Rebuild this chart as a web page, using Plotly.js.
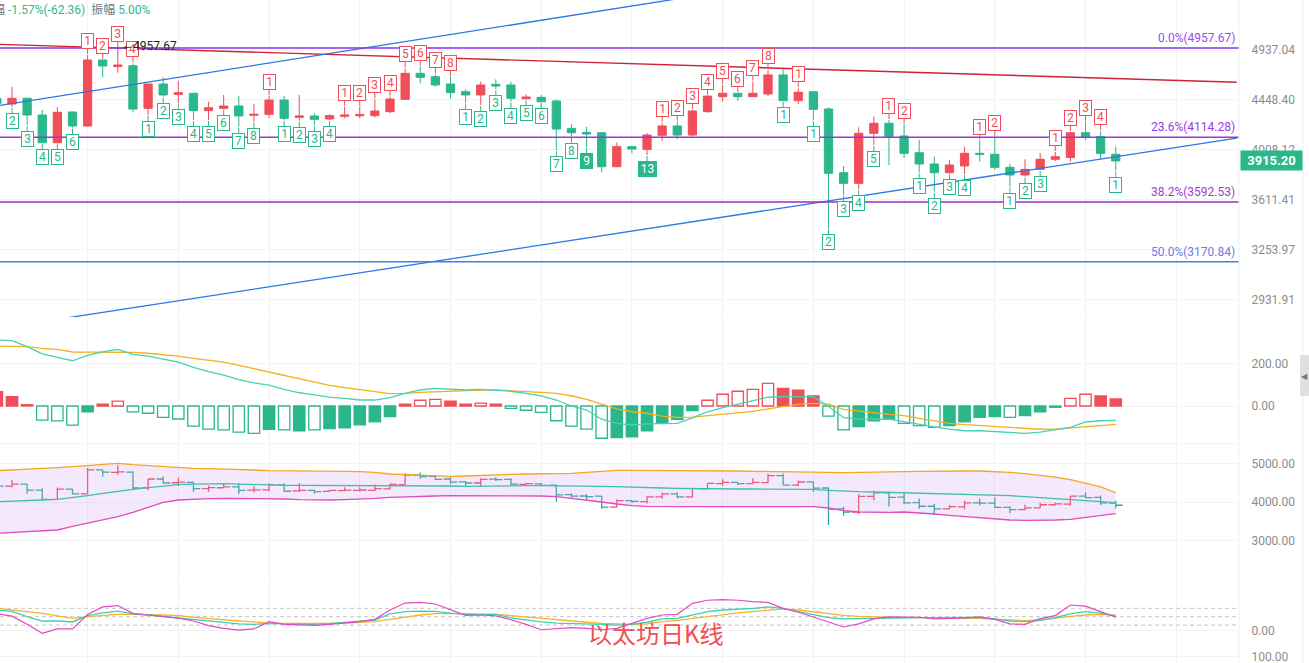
<!DOCTYPE html>
<html><head><meta charset="utf-8">
<script src="https://cdn.plot.ly/plotly-3.0.1.min.js"></script>
<style>html,body{margin:0;padding:0;background:#fff;overflow:hidden}#chart{width:1309px;height:663px}</style>
</head><body><div id="chart"></div>
<script>
// ---------- data ----------
const openP  = [4461,4410,4463,4310,4067,4337,4212,4835,4769,4778,4370,4598,4500,4510,4349,4370,4392,4307,4316,4447,4289,4301,4274,4298,4303,4304,4340,4453,4702,4669,4598,4525,4494,4595,4589,4459,4472,4438,4191,4156,4153,3868,4034,4011,4131,4212,4133,4340,4478,4510,4478,4503,4686,4441,4525,4364,3820,3736,4148,4236,4125,3983,3890,3820,3874,3978,3970,3863,3802,3847,3929,3944,4153,4119,3970];
const highP  = [4475,4570,4468,4355,4380,4340,4886,4838,4957.67,4802,4600,4663,4630,4512,4431,4494,4487,4410,4487,4487,4494,4325,4316,4385,4385,4453,4478,4752,4767,4696,4669,4548,4620,4644,4620,4501,4494,4453,4227,4205,4159,4068,4036,4148,4241,4250,4355,4486,4589,4512,4620,4735,4741,4557,4527,4380,3874,4200,4295,4265,4221,4090,3950,3923,4034,4085,4119,3890,3929,3980,3990,4159,4250,4168,4034];
const lowP   = [4392,4383,4221,4065,4062,4197,4206,4663,4708,4334,4310,4478,4417,4265,4265,4368,4206,4250,4280,4265,4259,4221,4265,4280,4280,4289,4325,4450,4605,4573,4463,4422,4401,4548,4431,4453,4431,4006,4119,4034,3822,3866,3978,3964,4084,4096,4119,4331,4431,4441,4475,4484,4440,4410,4265,3401,3646,3690,4048,3882,3939,3823,3671,3815,3810,3909,3842,3710,3789,3842,3914,3909,4090,3923,3836];
const closeP = [4415,4463,4310,4067,4334,4212,4835,4775,4785,4364,4598,4494,4516,4349,4376,4392,4301,4316,4447,4280,4301,4271,4304,4310,4312,4346,4456,4702,4663,4589,4516,4494,4589,4579,4463,4475,4431,4185,4153,4142,3868,4034,4014,4133,4212,4133,4346,4484,4510,4478,4510,4686,4441,4520,4361,3815,3736,4148,4236,4119,3978,3890,3820,3882,3978,3970,3863,3802,3847,3929,3950,4153,4113,3977.56,3915.20];

// TD sequential counts (0 = none)
const tdSell = [0,0,0,0,0,0,1,2,3,4, 0,0,0,0,0,0,0,0,1,0, 0,0,0,1,2,3,4,5,6,7, 8,0,0,0,0,0,0,0,0,0, 0,0,0,0,1,2,3,4,5,6, 7,8,0,1,0,0,0,0,0,1, 2,0,0,0,0,1,2,0,0,0, 1,2,3,4,0];
const tdBuy  = [1,2,3,4,5,6,0,0,0,0, 1,2,3,4,5,6,7,8,0,1, 2,3,4,0,0,0,0,0,0,0, 0,1,2,3,4,5,6,7,8,9, 0,0,0,13,0,0,0,0,0,0, 0,0,1,0,1,2,3,4,5,0, 0,1,2,3,4,0,0,1,2,3, 0,0,0,0,1];

const fibLevels = [4957.67, 4114.28, 3592.53, 3170.84];
const fibNames  = ['0.0%', '23.6%', '38.2%', '50.0%'];
const mainTicks = [4937.04, 4448.40, 4008.12, 3611.41, 3253.97, 2931.91];

// hand-drawn trend lines (candle index, price)
const trendRedX = [0, 82],  trendRedY = [4997, 4615];
const trendUpX  = [0, 60],  trendUpY  = [4392.5, 5920];
const trendLoX  = [0, 82],  trendLoY  = [2757.5, 4106.4];

// MACD
const macdHist = [67,44,6,-66,-70,-90,-27,9,23,-28,-34,-53,-61,-94,-108,-112,-122,-128,-109,-112,-116,-112,-106,-102,-88,-74,-50,9,27,31,23,9,13,9,-11,-20,-30,-69,-94,-108,-151,-148,-144,-116,-81,-62,-22,27,55,69,78,106,83,74,47,-47,-112,-97,-69,-62,-81,-92,-100,-92,-74,-53,-50,-53,-45,-27,-6,36,55,47,33];
const macdHollow = [0,0,0,1,1,1,0,0,1,1, 1,1,1,1,1,1,1,1,0,1, 0,1,0,0,0,0,0,0,1,1, 0,0,1,0,1,1,1,1,1,1, 1,0,0,0,0,0,0,1,1,1, 1,1,0,0,0,1,1,0,0,0, 1,1,1,0,0,0,0,1,0,0, 0,1,1,0,0];
const macdDif = [309,306,278,244,228,212,237,254,265,242,234,220,205,181,161,145,123,108,98,78,62,52,42,36,28,28,39,59,75,83,80,75,78,75,69,59,47,28,0,-19,-62,-81,-89,-84,-84,-81,-56,-27,-8,8,23,41,44,44,44,-2,-55,-61,-61,-62,-73,-86,-98,-108,-116,-116,-119,-123,-128,-122,-111,-100,-75,-69,-67];
const macdDea = [281,281,278,270,265,253,253,253,253,251,247,242,234,223,214,205,190,175,159,144,128,112,97,86,75,67,58,59,64,67,70,75,75,75,72,69,64,59,48,31,9,-14,-27,-34,-47,-53,-52,-45,-37,-31,-25,-14,-2,8,12,9,-16,-25,-31,-39,-45,-58,-70,-81,-87,-92,-97,-101,-106,-109,-108,-103,-97,-91,-86];
const macdTicks = [200, 0, -175];

// Bollinger
const bollUp  = [4814,4840,4866,4874,4892,4909,4944,4978,5004,4970,4944,4918,4900,4874,4866,4848,4840,4831,4814,4814,4805,4805,4805,4797,4788,4771,4727,4710,4693,4675,4667,4675,4693,4710,4719,4727,4727,4736,4745,4771,4805,4822,4822,4822,4822,4822,4822,4814,4814,4805,4797,4788,4779,4771,4762,4753,4762,4771,4771,4779,4788,4797,4805,4805,4805,4805,4797,4771,4736,4701,4649,4580,4493,4390,4242];
const bollMid = [4009,4017,4035,4052,4069,4113,4164,4225,4286,4329,4372,4416,4450,4467,4476,4476,4467,4450,4441,4433,4433,4433,4424,4424,4424,4424,4424,4416,4424,4424,4416,4407,4416,4416,4424,4424,4424,4424,4416,4416,4407,4398,4381,4364,4364,4355,4346,4338,4338,4338,4338,4338,4338,4329,4329,4303,4277,4268,4260,4251,4242,4234,4225,4216,4208,4199,4182,4164,4138,4113,4087,4061,4035,4017,3983];
const bollLo  = [3186,3212,3238,3255,3273,3369,3446,3533,3619,3732,3853,3991,4052,4078,4087,4095,4095,4095,4087,4078,4061,4052,4052,4061,4069,4095,4121,4138,4147,4156,4164,4164,4164,4164,4164,4164,4156,4138,4095,4061,4000,3948,3905,3888,3879,3879,3879,3879,3879,3879,3879,3879,3879,3879,3879,3844,3775,3740,3732,3732,3740,3723,3688,3654,3619,3584,3558,3533,3524,3524,3533,3550,3593,3645,3697];
const bollTicks = [5000, 4000, 3000];

// KDJ
const kdjK = [74,69,50,34.5,34.5,31,54,64,70,60,56,51,45,39,34.5,30,24,22.5,26,24,22.5,22.5,25,28.5,32,38,60,68,70,69,63,58,58,58,46,38,31,27,26,26,22.5,20,22.5,30,42,44,56,68,74,76,80,85,80,68,56,46.5,42,43,45,46.5,46.5,46.5,46.5,46.5,46.5,47.7,42,34.5,32,37,46.5,60,68,63,52.5];
const kdjD = [80,75,68,62,54,44,50,55,58,58,58,56,54,48,43,39,34.5,30,27,26,26,25,26,27,30,32,40.5,49,56,61,62,61,58,58,54,49,43,38,33,30,26,24,22.5,24,32,37,44,49,58.5,64,68,73,78,74,67,60,55,51,49,47.7,46.5,46.5,45,44,44,44,40.5,37,35.7,38,45,51,56,58.5,56];
const kdjJ = [61,52,22.5,-10,6,6,58,85,90,62,56,51,45,34.5,18,8,2,6,32,22.5,20,19,22.5,27,32,40.5,74,99,101.6,95.6,74,55,56,53,39,22.5,3,8,10.5,8,3,8,26,44,56,58.5,98,109,111,109,104,101.6,80,66,49,32,13,24,42,49,49,48,42,43,46,49,40.5,24,22.5,43,54,92,88,68,48];
const kdjLevels = [80, 50, 20];
const kdjTicks = [0, -94], kdjTickText = ['0.00', '100.00'];

const headerChange = '-1.57%(-62.36)', headerAmp = '5.00%';
const caption = '以太坊日K线';

// ---------- drawing ----------
const RED = '#f04e58', GREEN = '#2ab78c';
const N = openP.length;
const idx = Array.from({length: N}, (_, i) => i);
const X0 = 1 - 12 / 15.12, X1 = X0 + 1239 / 15.12;
const FONT = 'Roboto, "Noto Sans CJK SC", sans-serif';
const H = 663;
const dom = (top, bot) => [1 - bot / H, 1 - top / H];

const traces = [];
traces.push({type: 'candlestick', x: idx, open: openP, high: highP, low: lowP, close: closeP,
  xaxis: 'x', yaxis: 'y', whiskerwidth: 0, hoverinfo: 'skip',
  increasing: {line: {color: RED, width: 1}, fillcolor: RED},
  decreasing: {line: {color: GREEN, width: 1}, fillcolor: GREEN}});

const line = (x, y, ya, color, width, dash) => ({type: 'scatter', mode: 'lines', x, y, xaxis: 'x', yaxis: ya,
  line: {color, width, dash: dash || 'solid'}, hoverinfo: 'skip'});

traces.push(line(trendRedX, trendRedY, 'y', '#d0213a', 1.4));
traces.push(line(trendUpX, trendUpY, 'y', '#2a78e0', 1.3));
traces.push(line(trendLoX, trendLoY, 'y', '#2a78e0', 1.3));
const fibLineCol = ['#8a33ee', '#9a36e0', '#9a2fc2', '#3b82f0'];
const fibTextCol = ['#9a4cf0', '#9a3ae8', '#a43bd0', '#6f7be8'];
fibLevels.forEach((v, k) => traces.push(line([X0, X1], [v, v], 'y', fibLineCol[k], 1.5)));

// MACD
const hc = macdHist.map(v => v >= 0 ? RED : GREEN);
traces.push({type: 'bar', x: idx, y: macdHist, xaxis: 'x', yaxis: 'y2', width: 0.75, hoverinfo: 'skip',
  marker: {color: macdHist.map((v, i) => macdHollow[i] ? '#ffffff' : hc[i]), line: {color: hc, width: 1.3}}});
traces.push(line(idx, macdDea, 'y2', '#f5b01a', 1.3));
traces.push(line(idx, macdDif, 'y2', '#45d2b4', 1.3));

// BOLL
traces.push({type: 'ohlc', x: idx, open: openP, high: highP, low: lowP, close: closeP, xaxis: 'x', yaxis: 'y3',
  tickwidth: 0.45, hoverinfo: 'skip',
  increasing: {line: {color: RED, width: 1.3}}, decreasing: {line: {color: '#2aa898', width: 1.3}}});
traces.push(line(idx, bollLo, 'y3', '#e24cbc', 1.3));
traces.push(Object.assign(line(idx, bollUp, 'y3', '#f5a623', 1.3), {fill: 'tonexty', fillcolor: 'rgba(205,150,240,0.22)'}));
traces.push(line(idx, bollMid, 'y3', '#3fbfae', 1.3));

// KDJ
kdjLevels.forEach(v => traces.push(line([X0, X1], [v, v], 'y4', '#c6c6c6', 1, '4px,3px')));
traces.push(line(idx, kdjD, 'y4', '#f5b52a', 1.3));
traces.push(line(idx, kdjK, 'y4', '#3fd0b0', 1.3));
traces.push(line(idx, kdjJ, 'y4', '#e448c8', 1.2));

// annotations
const ann = [];
function tdBox(i, n, up) {
  const col = up ? RED : GREEN;
  const solid = !up && (n === 9 || n === 13);
  return {xref: 'x', yref: 'y', x: i, y: Math.log10(up ? highP[i] : lowP[i]), text: String(n),
    showarrow: true, arrowhead: 0, arrowwidth: 1, arrowcolor: col, ax: 0, ay: up ? -14 : 14, standoff: 1,
    bordercolor: col, borderwidth: 1, borderpad: 1, bgcolor: solid ? col : '#ffffff',
    font: {family: FONT, size: 12, color: solid ? '#ffffff' : col}, width: n > 9 ? 15 : 9, height: 12};
}
for (let i = 0; i < N; i++) {
  if (tdSell[i]) ann.push(tdBox(i, tdSell[i], true));
  if (tdBuy[i]) ann.push(tdBox(i, tdBuy[i], false));
}
// highest price marker
const hi = highP.indexOf(Math.max(...highP));
ann.push({xref: 'x', yref: 'y', x: hi, y: Math.log10(highP[hi]), text: highP[hi].toFixed(2),
  showarrow: true, arrowhead: 2, arrowsize: 0.8, arrowwidth: 1, arrowcolor: '#444', ax: 37, ay: -2, standoff: 5,
  font: {family: FONT, size: 12, color: '#222'}});
// fib labels
fibLevels.forEach((v, k) => ann.push({xref: 'paper', x: 1, xanchor: 'right', xshift: -2, yref: 'y', y: Math.log10(v),
  yanchor: 'bottom', yshift: 1, showarrow: false, text: fibNames[k] + '(' + v.toFixed(2) + ')',
  font: {family: FONT, size: 12, color: fibTextCol[k]}}));
// last price tag
ann.push({xref: 'paper', x: 1, xanchor: 'left', xshift: 1, yref: 'y', y: Math.log10(closeP[N - 1]), showarrow: false,
  text: '<b>' + closeP[N - 1].toFixed(2) + '</b>', bgcolor: GREEN, borderpad: 1, width: 59, height: 17,
  font: {family: FONT, size: 13, color: '#ffffff'}});
// header
ann.push({xref: 'paper', yref: 'paper', x: 0, y: 1, xanchor: 'left', yanchor: 'top', xshift: -21, showarrow: false,
  text: '<span style="color:#777">涨幅</span> ' + headerChange + '&nbsp; <span style="color:#777">振幅</span> ' + headerAmp,
  font: {family: FONT, size: 12, color: '#2eb88e'}});
// caption
ann.push({xref: 'paper', yref: 'paper', x: 656 / 1239, y: 1 - 632 / H, xanchor: 'center', yanchor: 'middle', showarrow: false,
  text: caption, font: {family: '"Noto Sans CJK SC", sans-serif', size: 24, color: '#f25050'}});
// scroll handle glyph
ann.push({xref: 'paper', yref: 'paper', x: 1304.5 / 1239, y: 1 - 376 / H, xanchor: 'center', yanchor: 'middle', showarrow: false,
  text: '◀', font: {family: 'DejaVu Sans', size: 8, color: '#777'}});

const yBase = {side: 'right', anchor: 'x', showgrid: true, gridcolor: '#f3f3f3', gridwidth: 1, zeroline: false,
  showline: false, ticks: 'outside', ticklen: 9, tickcolor: 'rgba(0,0,0,0)', tickmode: 'array',
  ticklabeloverflow: 'allow', automargin: false,
  tickfont: {family: FONT, size: 12, color: '#8c8c8c'}, fixedrange: true};

const layout = {
  width: 1309, height: 663, margin: {l: 0, r: 70, t: 0, b: 0},
  paper_bgcolor: '#ffffff', plot_bgcolor: '#ffffff', showlegend: false, hovermode: false,
  boxgap: 0.22, font: {family: FONT},
  xaxis: {range: [X0, X1], showticklabels: false, showgrid: true, gridcolor: '#f3f3f3', tick0: 0, dtick: 6,
    zeroline: false, showline: false, ticks: '', rangeslider: {visible: false}, fixedrange: true},
  yaxis: Object.assign({}, yBase, {domain: dom(0, 317), type: 'log', range: [3.45108, 3.73886],
    tickvals: mainTicks, ticktext: mainTicks.map(v => v.toFixed(2))}),
  yaxis2: Object.assign({}, yBase, {domain: dom(318, 452), range: [-215.5, 412.2],
    tickvals: macdTicks, ticktext: macdTicks.map(v => v === -175 ? '' : v.toFixed(2))}),
  yaxis3: Object.assign({}, yBase, {domain: dom(453, 580), range: [1974, 5273],
    tickvals: bollTicks, ticktext: bollTicks.map(v => v.toFixed(2))}),
  yaxis4: Object.assign({}, yBase, {domain: dom(582, 663), range: [-116.4, 174.6],
    tickvals: kdjTicks, ticktext: kdjTickText}),
  annotations: ann,
  shapes: [
    {type: 'line', xref: 'paper', yref: 'paper', x0: 1, x1: 1, y0: 0, y1: 1, line: {color: '#eeeeee', width: 1}},
    {type: 'line', xref: 'paper', yref: 'paper', x0: 1303 / 1239, x1: 1303 / 1239, y0: 0, y1: 1, line: {color: '#eeeeee', width: 1}},
    {type: 'rect', xref: 'paper', yref: 'paper', x0: 1300 / 1239, x1: 1309 / 1239, y0: 1 - 396 / H, y1: 1 - 355 / H,
      fillcolor: '#e0e0e0', line: {width: 0}}
  ]
};

Plotly.newPlot('chart', traces, layout, {staticPlot: true, displayModeBar: false});
</script>
</body></html>
